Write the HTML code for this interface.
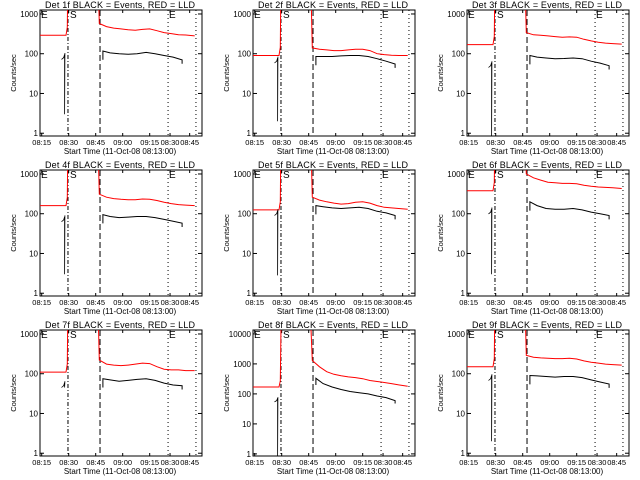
<!DOCTYPE html>
<html><head><meta charset="utf-8"><style>
body{margin:0;background:#fff}
svg{display:block}
text{font-family:"Liberation Sans",sans-serif;fill:#000}
</style></head><body>
<svg id="c" width="640" height="480" viewBox="0 0 640 480"></svg>
<script>
const detectors=["1f","2f","3f","4f","5f","6f","7f","8f","9f"];
const redPre=[290,90,170,160,125,380,110,170,150];
const redPostTimes=[34,38,42,46,50,54,58,62,66,70,74,78,82,87];
const redPost=[
[575,480,440,420,400,390,410,420,380,340,320,300,295,280],
[140,130,125,120,120,125,130,130,120,100,95,92,90,90],
[340,300,290,280,270,260,265,260,230,210,195,185,180,175],
[310,260,240,230,225,225,235,230,215,195,180,170,165,160],
[260,220,200,185,175,180,195,200,185,160,145,140,135,130],
[1000,800,700,620,600,580,580,570,520,490,470,460,450,430],
[220,175,165,160,165,175,185,180,150,130,125,125,120,120],
[1300,800,550,450,400,370,350,320,280,260,240,220,200,180],
[290,260,250,245,240,240,245,235,210,195,185,175,170,165]];
const blackPostTimes=[36,40,45,50,55,60,65,70,75,80];
const blackPost=[
[117,105,100,97,100,108,100,90,82,70],
[85,85,85,88,90,90,85,75,65,55],
[90,82,78,75,76,78,75,65,58,50],
[95,85,80,82,85,85,80,72,65,58],
[160,150,140,135,140,145,135,115,105,90],
[200,160,135,130,130,135,125,110,100,90],
[75,70,65,68,72,75,68,58,52,50],
[330,220,170,140,120,110,100,85,75,60],
[90,88,85,82,85,85,80,70,62,55]];
const blackSpikeTop=[80,65,50,70,100,110,50,60,75];
const blackSpikeMin=[3,2,0.8,3,2.8,3,45,0.8,2];
const yMaxExp=[3.1,3.1,3.1,3.1,3.1,3.1,3.1,4.13,3.1];
const xTickMinutes=[2,17,32,47,62,73.3,84.2];
const xTickLabels=["08:15","08:30","08:45","09:00","09:15","08:30","08:45"];
const markerTimes=[16.6,34.4,72.2,87.7];

const NS="http://www.w3.org/2000/svg";
const svg=document.getElementById('c');
function el(tag,attrs,parent){const e=document.createElementNS(NS,tag);for(const k in attrs)e.setAttribute(k,attrs[k]);(parent||svg).appendChild(e);return e;}

detectors.forEach((det,i)=>{
  const ox=[0,213,427][i%3], oy=[0,160,320][Math.floor(i/3)];
  const g=el('g',{transform:`translate(${ox},${oy})`});
  
  
  const L=40,R=202,T=10,B=136;
  const yMin=-0.07, yMax=yMaxExp[i];
  const xs=t=>38.1+1.8*t;
  const ys=v=>B-(Math.log10(Math.max(v,0.5))-yMin)/(yMax-yMin)*(B-T);
  const clipId='clip'+i;
  const cp=el('clipPath',{id:clipId},g);el('rect',{x:L,y:T,width:R-L,height:B-T},cp);
  const box=el('rect',{x:L,y:T,width:R-L,height:B-T,fill:'none',stroke:'#000','stroke-width':1},g);
  
  
  const maxDec=Math.floor(yMax);
  for(let d=0;d<=maxDec;d++){
    const v=Math.pow(10,d),y=ys(v);
    el('line',{x1:L,y1:y,x2:L+4,y2:y,stroke:'#000'},g);
    el('line',{x1:R,y1:y,x2:R-4,y2:y,stroke:'#000'},g);
    const t=el('text',{x:L-2,y:y+3,'font-size':8,'text-anchor':'end'},g);
    t.textContent=String(v);
    
    
  }
  xTickMinutes.forEach((m,k)=>{
    const x=xs(m);
    el('line',{x1:x,y1:B,x2:x,y2:B-3,stroke:'#000'},g);
    el('line',{x1:x,y1:T,x2:x,y2:T+3,stroke:'#000'},g);
    const t=el('text',{x:x,y:B+9,'font-size':7.5,'text-anchor':'middle'},g);
    t.textContent=xTickLabels[k];
    
    
  });
  const dashes=['4,2,1,2','6,3','1,3','1,3'];
  markerTimes.forEach((m,k)=>{
    const ln=el('line',{x1:xs(m),y1:T,x2:xs(m),y2:B,stroke:'#000','stroke-dasharray':dashes[k]},g);
    
    
  });
  let rp=[[1,redPre[i]],[15.5,redPre[i]],[16.2,redPre[i]*1.6],[17,1e6],[32,1e6],[redPostTimes[0],redPost[i][0]]];
  redPostTimes.forEach((t,k)=>rp.push([t,redPost[i][k]]));
  const red=el('polyline',{points:rp.map(p=>xs(p[0]).toFixed(1)+','+ys(p[1]).toFixed(1)).join(' '),fill:'none',stroke:'#f00','stroke-width':1,'clip-path':`url(#${clipId})`},g);
  
  
  const top=blackSpikeTop[i],mn=blackSpikeMin[i];
  const bs=[[13,top*0.9],[14.2,top],[14.7,top*1.2],[14.7,mn],[14.9,top*1.3]];
  const b1=el('polyline',{points:bs.map(p=>xs(p[0]).toFixed(1)+','+ys(p[1]).toFixed(1)).join(' '),fill:'none',stroke:'#000','stroke-width':0.8,'clip-path':`url(#${clipId})`},g);
  
  
  let bp=[[blackPostTimes[0],blackPost[i][0]*0.6]];
  blackPostTimes.forEach((t,k)=>bp.push([t,blackPost[i][k]]));
  bp.push([blackPostTimes[blackPostTimes.length-1],blackPost[i][blackPost[i].length-1]*0.8]);
  const b2=el('polyline',{points:bp.map(p=>xs(p[0]).toFixed(1)+','+ys(p[1]).toFixed(1)).join(' '),fill:'none',stroke:'#000','stroke-width':1,'clip-path':`url(#${clipId})`},g);
  
  
  [['E',41],['S',70],['E',169]].forEach(([s,x])=>{
    const t=el('text',{x:x,y:T+8,'font-size':10},g);t.textContent=s;
    
    
  });
  const tt=el('text',{x:120,y:8,'font-size':9,'text-anchor':'middle',textLength:150},g);
  tt.textContent=`Det ${det} BLACK = Events, RED = LLD`;
  
  
  const yl=el('text',{x:0,y:0,'font-size':7.5,'text-anchor':'middle',transform:'translate(16,73) rotate(-90)'},g);
  yl.textContent='Counts/sec';
  
  
  const xl=el('text',{x:120,y:154,'font-size':8,'text-anchor':'middle'},g);
  xl.textContent='Start Time (11-Oct-08 08:13:00)';
  
  
});
</script>
</body></html>
